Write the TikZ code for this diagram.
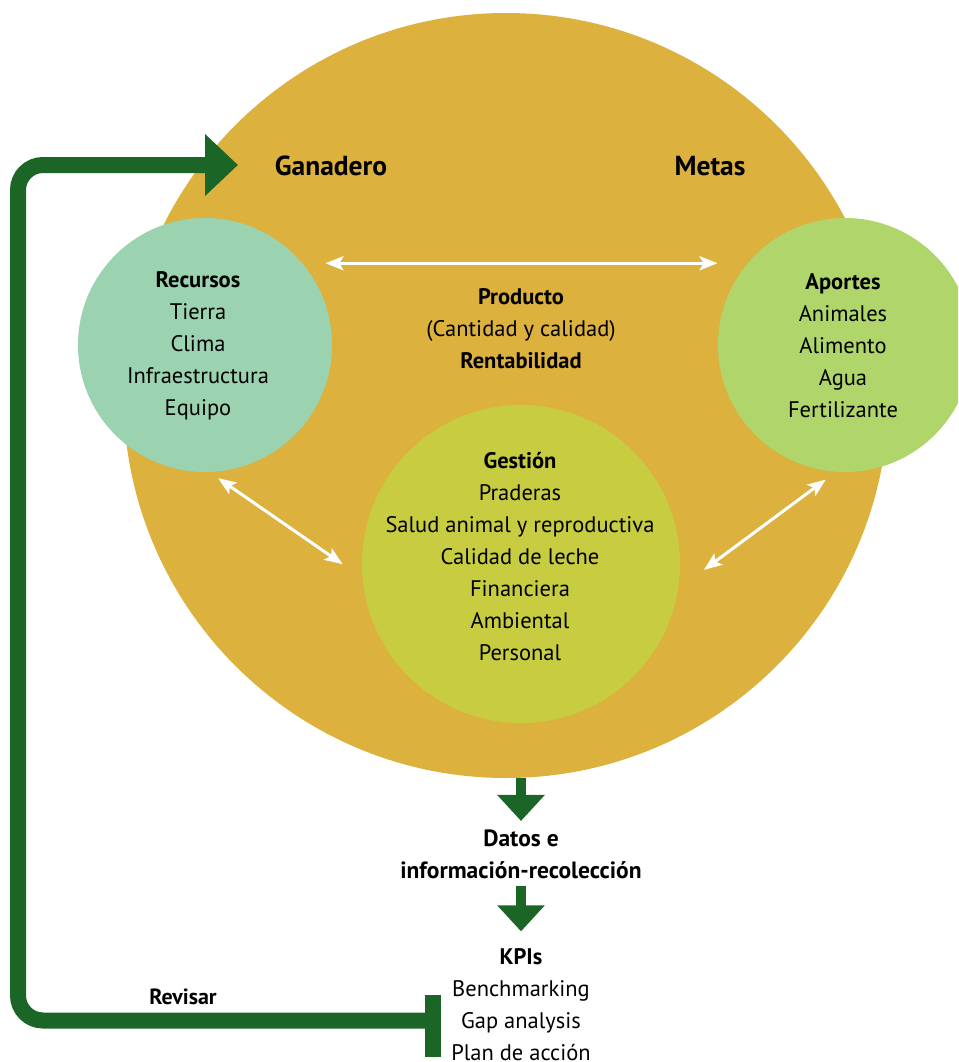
\documentclass[tikz,border=0pt]{standalone}
\usepackage{fontspec}
\setmainfont{PT Sans}
\usetikzlibrary{arrows.meta}

\definecolor{oro}{HTML}{DCB13D}
\definecolor{menta}{HTML}{9BD3B0}
\definecolor{lima}{HTML}{AFD56B}
\definecolor{oliva}{HTML}{C8CC40}
\definecolor{pino}{HTML}{1B6527}

\tikzset{
  texto/.style={align=center, font=\fontsize{22.5}{32}\selectfont},
  negrita/.style={align=center, font=\bfseries\fontsize{23.5}{32}\selectfont},
  titulo/.style={font=\bfseries\fontsize{27.5}{30}\selectfont},
  doble/.style={white, line width=3pt,
    {Stealth[length=18pt,width=14pt,inset=4pt]}-{Stealth[length=18pt,width=14pt,inset=4pt]}},
  bajada/.style={pino, line width=10pt, -{Triangle[length=26pt,width=46pt]}},
  disco/.style={circle, inner sep=0pt},
}

\begin{document}
\begin{tikzpicture}[x=1pt,y=-1pt]
        \useasboundingbox (0,0) rectangle (958,1062);
        \clip (0,0) rectangle (958,1062);

        % Big circle and the three inner circles
        \node[disco, fill=oro, minimum size=765pt] (finca) at (506,395.5) {};
        \node[disco, fill=menta, minimum size=254pt] (recursos) at (205,345) {};
        \node[disco, fill=lima, minimum size=254pt] (aportes) at (845,345) {};
        \node[disco, fill=oliva, minimum size=318pt] (gestion) at (521,564) {};

        % Headings on top
        \node[titulo] (ganadero) at (331,166) {Ganadero};
        \node[titulo] (metas) at (710,166) {Metas};

        % Texts inside the circles
        \node[texto] (listarec) at (198,346) {\textbf{Recursos}\\Tierra\\Clima\\Infraestructura\\Equipo};
        \node[texto] (producto) at (521,329) {\textbf{Producto}\\(Cantidad y calidad)\\\textbf{Rentabilidad}};
        \node[texto] (listaapo) at (843,346) {\textbf{Aportes}\\Animales\\Alimento\\Agua\\Fertilizante};
        \node[texto] (listages) at (520,557) {\textbf{Gestión}\\Praderas\\Salud animal y reproductiva\\Calidad de leche\\Financiera\\Ambiental\\Personal};

        % White two-way arrows between the circles
        \draw[doble, shorten <=23pt, shorten >=30pt] (recursos.40) -- (aportes.140);
        \draw[doble, shorten <=10.7pt, shorten >=24pt] (recursos.-88) -- (gestion.185);
        \draw[doble, shorten <=13pt, shorten >=32pt] (aportes.-94) -- (gestion.-9);

        % Data and KPIs below
        \node[negrita] (datos) at (521,854) {Datos e\\información-recolección};
        \node[texto] (kpis) at (521,1005) {\textbf{KPIs}\\Benchmarking\\Gap analysis\\Plan de acción};

        % Green down arrows
        \draw[bajada, shorten >=5pt] (finca.south -| datos.north) -- (datos.north);
        \draw[bajada, shorten <=4pt, shorten >=14pt] (datos.south) -- (kpis.north);

        % Feedback loop back to the farmer
        \node[fill=pino, minimum width=16pt, minimum height=62pt, inner sep=0pt] (barra) at (433,1026) {};
        \coordinate (vuelta) at (238,165);
        \draw[pino, line width=16pt, rounded corners=25pt, -{Triangle[length=33pt,width=60pt]}]
          ([yshift=5.5pt]barra.west) -| (18,165) -- (vuelta);
        \node[font=\bfseries\fontsize{22}{26}\selectfont] (revisar) at (183,997) {Revisar};
\end{tikzpicture}
\end{document}
